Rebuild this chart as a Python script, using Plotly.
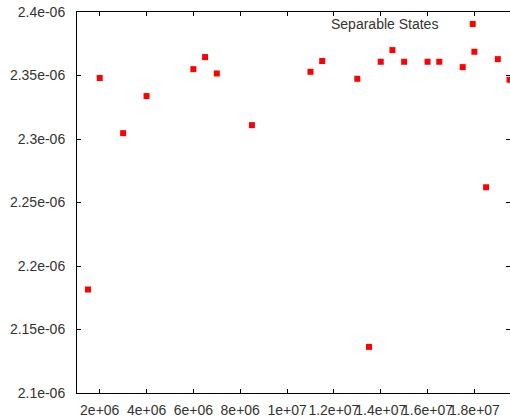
import plotly.graph_objects as go

# Data
x_values = [1.5e6, 2.0e6, 3.0e6, 4.0e6, 6.0e6, 6.5e6, 7.0e6, 8.5e6,
            1.1e7, 1.15e7, 1.3e7, 1.35e7, 1.4e7, 1.45e7, 1.5e7, 1.6e7,
            1.65e7, 1.75e7, 1.8e7, 1.85e7, 1.9e7, 1.95e7]
y_values = [2.1815e-6, 2.3480e-6, 2.3046e-6, 2.3338e-6, 2.3550e-6, 2.3645e-6,
            2.3516e-6, 2.3109e-6, 2.3529e-6, 2.3614e-6, 2.3474e-6, 2.1363e-6,
            2.3608e-6, 2.3700e-6, 2.3608e-6, 2.3608e-6, 2.3608e-6, 2.3566e-6,
            2.3687e-6, 2.2620e-6, 2.3629e-6, 2.3466e-6]
series_name = "Separable States"

x_tick_vals = [2e6, 4e6, 6e6, 8e6, 1e7, 1.2e7, 1.4e7, 1.6e7, 1.8e7]
x_tick_text = ["2e+06", "4e+06", "6e+06", "8e+06", "1e+07", "1.2e+07",
               "1.4e+07", "1.6e+07", "1.8e+07"]
y_tick_vals = [2.1e-6, 2.15e-6, 2.2e-6, 2.25e-6, 2.3e-6, 2.35e-6, 2.4e-6]
y_tick_text = ["2.1e-06", "2.15e-06", "2.2e-06", "2.25e-06", "2.3e-06",
               "2.35e-06", "2.4e-06"]

FONT = "Liberation Sans, Arial, sans-serif"
TEXT_COLOR = "#333333"

fig = go.Figure()
fig.add_trace(go.Scatter(
    x=x_values, y=y_values, mode="markers", name=series_name,
    marker=dict(symbol="square", size=6, color="#ff0000", line=dict(width=0)),
    showlegend=False, cliponaxis=False,
))

L, R, T, B = 77, 0, 12, 25
W, H = 510, 418
pw, ph = W - L - R, H - T - B

def px_to_paper_x(px):
    return (px - L) / pw

def px_to_paper_y(py):
    return (H - B - py) / ph

# Key (gnuplot style: text then sample on the right)
fig.add_annotation(
    x=px_to_paper_x(440), y=px_to_paper_y(24), xref="paper", yref="paper",
    xanchor="right", yanchor="middle", text=series_name, showarrow=False,
    font=dict(family=FONT, size=14, color=TEXT_COLOR),
)
fig.add_shape(
    type="rect", xref="paper", yref="paper",
    x0=px_to_paper_x(469.7), x1=px_to_paper_x(475.7),
    y0=px_to_paper_y(27), y1=px_to_paper_y(21),
    fillcolor="#ff0000", line=dict(width=0),
)

axis_common = dict(
    showgrid=False, zeroline=False, showline=True, linecolor="#000000",
    linewidth=1, mirror="ticks", ticks="inside", ticklen=4, tickwidth=1,
    tickcolor="#000000", tickfont=dict(family=FONT, size=14, color=TEXT_COLOR),
    tickmode="array", automargin=False,
)

fig.update_xaxes(range=[1.03e6, 1.952e7], tickvals=x_tick_vals,
                 ticktext=x_tick_text, tickangle=0, ticklabelstandoff=4,
                 **axis_common)
fig.update_yaxes(range=[2.1e-6, 2.4e-6], tickvals=y_tick_vals,
                 ticktext=y_tick_text, ticklabelstandoff=8, **axis_common)

fig.update_layout(
    width=W, height=H,
    margin=dict(l=L, r=R, t=T, b=B, pad=0, autoexpand=False),
    paper_bgcolor="white", plot_bgcolor="white",
    font=dict(family=FONT, size=14, color=TEXT_COLOR),
)

fig.write_html("out.html", config={"displayModeBar": False},
               post_script="document.body.style.margin='0';document.body.style.overflow='hidden';")
